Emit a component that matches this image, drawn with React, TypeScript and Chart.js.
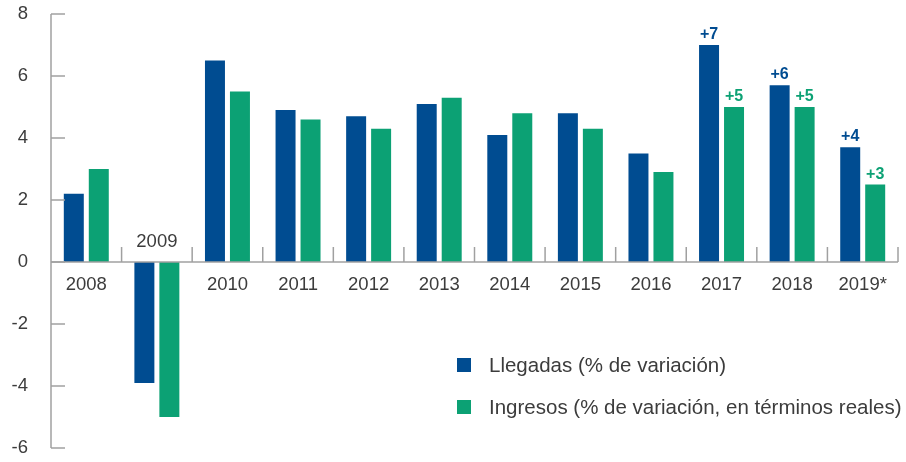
import React, { useEffect, useRef } from "react";
import { Chart, registerables } from "chart.js";

Chart.register(...registerables);

const categories = ["2008", "2009", "2010", "2011", "2012", "2013", "2014", "2015", "2016", "2017", "2018", "2019*"];
const llegadas = [2.2, -3.9, 6.5, 4.9, 4.7, 5.1, 4.1, 4.8, 3.5, 7.0, 5.7, 3.7];
const ingresos = [3.0, -5.0, 5.5, 4.6, 4.3, 5.3, 4.8, 4.3, 2.9, 5.0, 5.0, 2.5];
const llegadasNotes = ["", "", "", "", "", "", "", "", "", "+7", "+6", "+4"];
const ingresosNotes = ["", "", "", "", "", "", "", "", "", "+5", "+5", "+3"];
const yTicks = [-6, -4, -2, 0, 2, 4, 6, 8];
const seriesNames = ["Llegadas (% de variación)", "Ingresos (% de variación, en términos reales)"];

const BLUE = "#004c91";
const GREEN = "#0ca174";
const AXIS = "#a0a0a0";
const TEXT = "#3c3c3c";
const FONT = "'Liberation Sans', Arial, sans-serif";

const decorPlugin = {
  id: "decor",
  afterDatasetsDraw(chart: any) {
    const ctx = chart.ctx as CanvasRenderingContext2D;
    const x = chart.scales.x;
    const y = chart.scales.y;
    const area = chart.chartArea;
    const y0 = y.getPixelForValue(0);
    ctx.save();
    // axes
    ctx.strokeStyle = AXIS;
    ctx.lineWidth = 1.5;
    ctx.beginPath();
    ctx.moveTo(area.left, y.getPixelForValue(yTicks[yTicks.length - 1]));
    ctx.lineTo(area.left, y.getPixelForValue(yTicks[0]));
    ctx.stroke();
    ctx.beginPath();
    ctx.moveTo(area.left, y0);
    ctx.lineTo(area.right, y0);
    ctx.stroke();
    // y ticks
    ctx.font = `18.5px ${FONT}`;
    ctx.fillStyle = TEXT;
    ctx.textAlign = "right";
    ctx.textBaseline = "middle";
    yTicks.forEach((v) => {
      const py = y.getPixelForValue(v);
      ctx.beginPath();
      ctx.moveTo(area.left, py);
      ctx.lineTo(area.left + 14, py);
      ctx.stroke();
      ctx.fillText(String(v), 28, py);
    });
    // category boundary ticks (upward)
    const step = x.getPixelForValue(1) - x.getPixelForValue(0);
    for (let i = 1; i <= categories.length; i++) {
      const px = x.getPixelForValue(i) - step / 2;
      ctx.beginPath();
      ctx.moveTo(px, y0);
      ctx.lineTo(px, y0 - 15);
      ctx.stroke();
    }
    // category labels
    ctx.textAlign = "center";
    categories.forEach((c, i) => {
      const px = x.getPixelForValue(i);
      const neg = llegadas[i] < 0 && ingresos[i] < 0;
      ctx.fillText(c, px, neg ? y0 - 20 : y0 + 23);
    });
    // annotations
    ctx.font = `bold 16px ${FONT}`;
    ctx.textBaseline = "alphabetic";
    [
      { notes: llegadasNotes, idx: 0, color: BLUE },
      { notes: ingresosNotes, idx: 1, color: GREEN },
    ].forEach(({ notes, idx, color }) => {
      const meta = chart.getDatasetMeta(idx);
      notes.forEach((n, i) => {
        if (!n) return;
        const el = meta.data[i];
        ctx.fillStyle = color;
        ctx.fillText(n, el.x, el.y - 6);
      });
    });
    // legend
    ctx.font = `20.5px ${FONT}`;
    ctx.textAlign = "left";
    ctx.textBaseline = "middle";
    [BLUE, GREEN].forEach((col, i) => {
      const cy = 365 + i * 42;
      ctx.fillStyle = col;
      ctx.fillRect(457, cy - 7, 14, 14);
      ctx.fillStyle = TEXT;
      ctx.fillText(seriesNames[i], 489, cy + 1);
    });
    ctx.restore();
  },
};

export default function App() {
  const ref = useRef<HTMLCanvasElement>(null);
  useEffect(() => {
    document.body.style.margin = "0";
    const chart = new Chart(ref.current!, {
      type: "bar",
      data: {
        labels: categories,
        datasets: [
          { label: seriesNames[0], data: llegadas, backgroundColor: BLUE },
          { label: seriesNames[1], data: ingresos, backgroundColor: GREEN },
        ],
      },
      options: {
        animation: false,
        responsive: false,
        layout: { padding: { left: 51, top: 14, bottom: 14, right: 8 } },
        datasets: { bar: { categoryPercentage: 0.708, barPercentage: 0.8 } },
        plugins: { legend: { display: false }, tooltip: { enabled: false } },
        scales: {
          x: { display: false },
          y: { display: false, min: -6, max: 8 },
        },
      },
      plugins: [decorPlugin],
    });
    return () => chart.destroy();
  }, []);
  return <canvas ref={ref} width={906} height={462} style={{ display: "block" }} />;
}
